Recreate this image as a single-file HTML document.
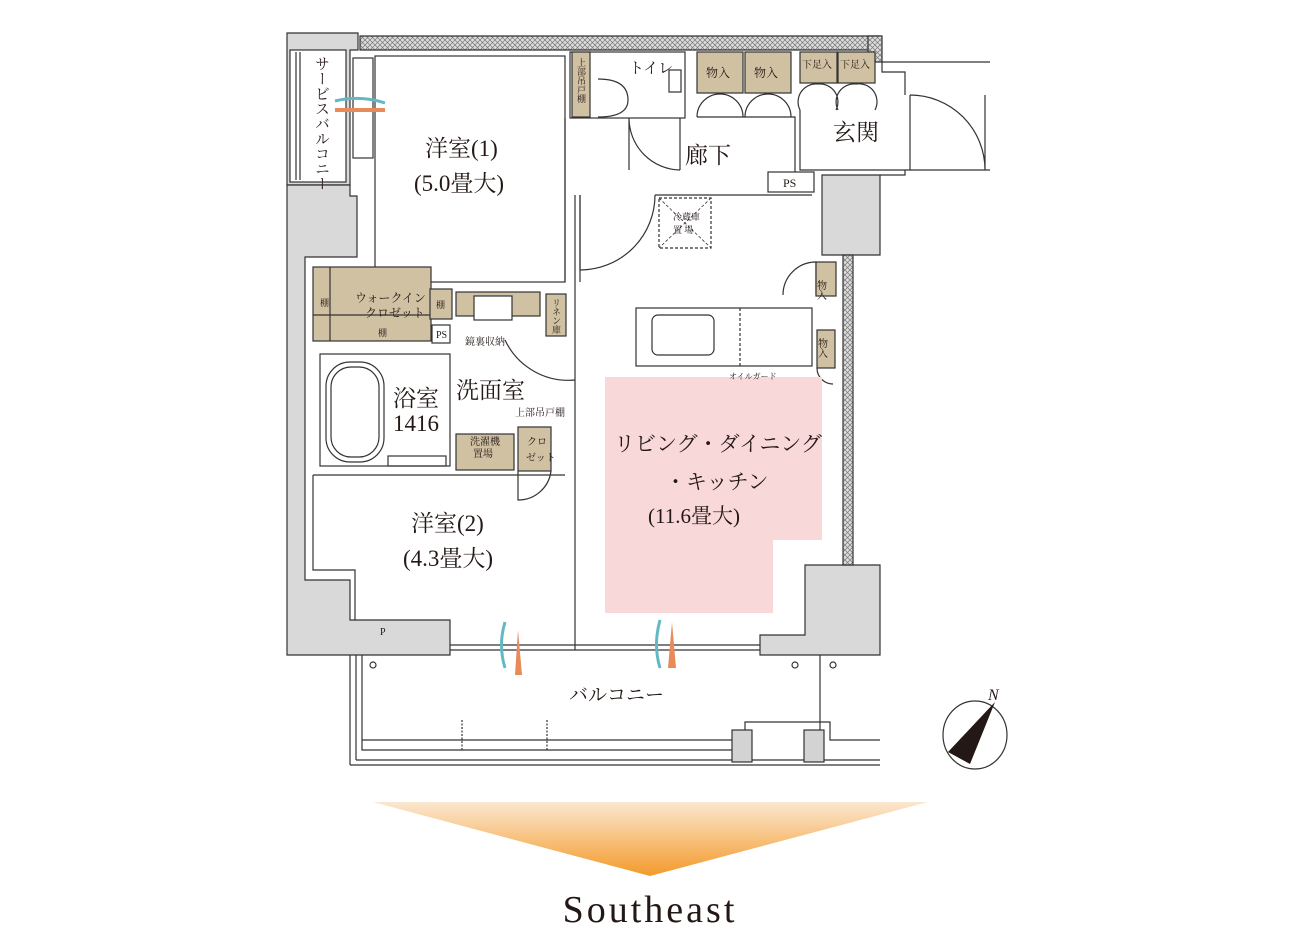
<!DOCTYPE html>
<html><head><meta charset="utf-8"><style>
html,body{margin:0;padding:0;background:#fff;}
svg{display:block;}
text{font-family:"Liberation Serif","Noto Serif CJK SC",serif;fill:#231815;}
</style></head><body>
<svg width="1300" height="928" viewBox="0 0 1300 928" xmlns="http://www.w3.org/2000/svg">
<defs>
<pattern id="hatch" width="5" height="5" patternUnits="userSpaceOnUse">
<rect width="5" height="5" fill="#ddd"/>
<path d="M0 0L5 5M5 0L0 5" stroke="#777" stroke-width="0.7"/>
</pattern>
<linearGradient id="og" x1="0" y1="0" x2="0" y2="1">
<stop offset="0" stop-color="#fbe7d0"/><stop offset="1" stop-color="#f39a2a"/>
</linearGradient>
</defs>
<g stroke="#333" stroke-width="1.2" fill="none">
<path d="M287 33 H358 V50 H350 V185 H287 Z" fill="#d9d9d9"/>
<path d="M287 185 H350 V196 H357 V257 H305 V580 H350 V620 H450 V655 H287 Z" fill="#d9d9d9"/>
<path d="M805 565 H880 V655 H760 V635 H805 Z" fill="#d9d9d9"/>
<path d="M822 175 H880 V255 H822 Z" fill="#d9d9d9"/>
<path d="M360 36 H880 V50 H360 Z" fill="url(#hatch)"/>
<path d="M868 36 H882 V62 H868 Z" fill="url(#hatch)"/>
<path d="M843 255 H853 V565 H843 Z" fill="url(#hatch)"/>
<path d="M882 62 H990 M882 62 V72 H905 V95 M905 170 V175 H880 M905 170 H990"/>
<rect x="290" y="50" width="56" height="132" fill="#fff"/>
<line x1="296" y1="52" x2="296" y2="180"/><line x1="300" y1="52" x2="300" y2="180"/>
<rect x="353" y="58" width="20" height="100" fill="#fff"/>
<rect x="375" y="56" width="190" height="226" fill="#fff"/>
<rect x="570" y="52" width="115" height="66" fill="#fff"/>
<rect x="572" y="52" width="18" height="65" fill="#d1c1a3"/>
<path d="M598 79 Q628 79 628 100 Q628 117 598 117"/>
<rect x="669" y="70" width="12" height="22"/>
<rect x="697" y="52" width="46" height="41" fill="#d1c1a3"/>
<rect x="745" y="52" width="46" height="41" fill="#d1c1a3"/>
<rect x="800" y="52" width="37" height="31" fill="#d1c1a3"/>
<rect x="838" y="52" width="37" height="31" fill="#d1c1a3"/>
<path d="M697 117 A23 23 0 0 1 720 94 M743 117 A23 23 0 0 0 720 94 M745 117 A23 23 0 0 1 768 94 M791 117 A23 23 0 0 0 768 94"/>
<path d="M800 110 A18 18 0 0 1 818 84 M836 110 A18 18 0 0 0 818 84 M838 110 A18 18 0 0 1 856 84 M875 110 A18 18 0 0 0 856 84"/>
<path d="M697 117 H795 V172 M800 110 V170 H905"/>
<path d="M629 118 V170 M629 118 A52 52 0 0 0 680 170 M680 118 V170"/>
<path d="M910 95 V170 M910 95 A75 75 0 0 1 985 170 M985 95 V170"/>
<rect x="768" y="172" width="46" height="20" fill="#fff"/>
<path d="M580 195 V270 A75 75 0 0 0 655 195"/>
<path d="M655 195 H812 M580 195 V282 M575 195 V650 M565 118 V282"/>
<rect x="659" y="198" width="52" height="50" stroke-dasharray="3 2"/>
<path d="M659 198 L711 248 M711 198 L659 248" stroke-dasharray="3 2" stroke-width="0.8"/>
<path d="M783 295 A33 33 0 0 1 816 262 V295"/>
<rect x="816" y="262" width="20" height="34" fill="#d1c1a3"/>
<rect x="817" y="330" width="18" height="38" fill="#d1c1a3"/>
<path d="M817 368 A16 16 0 0 0 833 384"/>
<rect x="313" y="267" width="118" height="74" fill="#d1c1a3"/>
<rect x="430" y="289" width="22" height="30" fill="#d1c1a3"/>
<path d="M330 267 V341 M313 315 H430"/>
<rect x="432" y="325" width="18" height="18" fill="#fff"/>
<rect x="456" y="292" width="84" height="24" fill="#d1c1a3"/>
<rect x="474" y="296" width="38" height="24" fill="#fff"/>
<rect x="546" y="294" width="20" height="42" fill="#d1c1a3"/>
<rect x="320" y="354" width="130" height="112" fill="#fff"/>
<rect x="326" y="362" width="58" height="100" rx="24"/>
<rect x="331" y="367" width="48" height="90" rx="20"/>
<rect x="388" y="456" width="58" height="10"/>
<rect x="456" y="434" width="58" height="36" fill="#d1c1a3"/>
<rect x="518" y="427" width="33" height="44" fill="#d1c1a3"/>
<path d="M518 471 V500 A33 33 0 0 0 551 471"/>
<path d="M313 475 H565 M313 475 V570 H355 V620 M575 380 A70 70 0 0 1 505 340"/>
<path d="M605 377 H822 V540 H773 V613 H605 Z" fill="#f8d8d8" stroke="none"/>
<rect x="636" y="308" width="176" height="58" fill="#fff"/>
<rect x="652" y="315" width="62" height="40" rx="6"/>
<path d="M740 308 V366" stroke-dasharray="3 2"/>
<path d="M450 645 H760 M450 650 H760"/>
<path d="M350 655 V765 M356 655 V760 M362 655 V750 H745 V722 H830 V740 H880 M362 740 H735 M350 765 H880 M356 760 H880"/>
<rect x="732" y="730" width="20" height="32" fill="#d3d3d3"/>
<rect x="804" y="730" width="20" height="32" fill="#d3d3d3"/>
<path d="M820 655 V730"/>
<circle cx="373" cy="665" r="3"/><circle cx="795" cy="665" r="3"/><circle cx="833" cy="665" r="3"/>
<path d="M462 720 V750 M547 720 V750" stroke-dasharray="2 1.5"/>
<ellipse cx="975" cy="735" rx="32" ry="34"/>
</g>
<path d="M995 702 L948 752 L970 764 Z" fill="#231815"/>
<text x="988" y="700" font-size="16" font-style="italic" font-family="Liberation Sans">N</text>
<path d="M373 802 H928 L650 876 Z" fill="url(#og)"/>
<path d="M335 110 H385" stroke="#e98a5a" stroke-width="4"/>
<path d="M335 101 Q360 95 385 103" stroke="#63b8c4" stroke-width="3" fill="none"/>
<path d="M518 630 L515 675 L522 675 Z" fill="#e98a5a"/>
<path d="M672 622 L668 668 L676 668 Z" fill="#e98a5a"/>
<path d="M505 622 Q498 645 505 668" stroke="#63b8c4" stroke-width="3" fill="none"/>
<path d="M660 620 Q653 645 660 668" stroke="#63b8c4" stroke-width="3" fill="none"/>
<g font-size="23">
<text x="425" y="156">洋室(1)</text>
<text x="414" y="191">(5.0畳大)</text>
<text x="685" y="163">廊下</text>
<text x="833" y="140">玄関</text>
<text x="456" y="398">洗面室</text>
<text x="393" y="406">浴室</text>
<text x="393" y="431">1416</text>
<text x="411" y="531">洋室(2)</text>
<text x="403" y="566">(4.3畳大)</text>
</g>
<g font-size="21">
<text x="614" y="451">リビング・ダイニング</text>
<text x="665" y="489">・キッチン</text>
<text x="648" y="523">(11.6畳大)</text>
</g>
<text x="629" y="73" font-size="15">トイレ</text>
<text x="569" y="701" font-size="19">バルコニー</text>
<text x="321" y="56" font-size="15" writing-mode="tb">サービスバルコニー</text>
<g font-size="12">
<text x="706" y="77">物入</text><text x="754" y="77">物入</text>
<text x="802" y="68" font-size="10">下足入</text><text x="840" y="68" font-size="10">下足入</text>
<text x="783" y="187">PS</text>
<text x="436" y="338" font-size="10">PS</text>
<text x="380" y="635" font-size="10">P</text>
<text x="355" y="302">ウォークイン</text>
<text x="365" y="317">クロゼット</text>
<text x="320" y="306" font-size="9">棚</text><text x="378" y="336" font-size="9">棚</text><text x="436" y="308" font-size="9">棚</text>
<text x="465" y="345" font-size="10">鏡裏収納</text>
<text x="515" y="416" font-size="10">上部吊戸棚</text>
<text x="470" y="445" font-size="10">洗濯機</text><text x="473" y="457" font-size="10">置場</text>
<text x="527" y="445" font-size="10">クロ</text><text x="526" y="461" font-size="10">ゼット</text>
<text x="673" y="220" font-size="9">冷蔵庫</text><text x="673" y="233" font-size="9">置 場</text>
<text x="729" y="379" font-size="8">オイルガード</text>
<text x="820" y="280" font-size="10" writing-mode="tb">物入</text>
<text x="821" y="338" font-size="10" writing-mode="tb">物入</text>
<text x="581" y="58" font-size="9" writing-mode="tb">上部吊戸棚</text>
<text x="556" y="298" font-size="9" writing-mode="tb">リネン庫</text>
</g>
<text x="650" y="922" font-size="38" text-anchor="middle" letter-spacing="3">Southeast</text>
</svg>
</body></html>
